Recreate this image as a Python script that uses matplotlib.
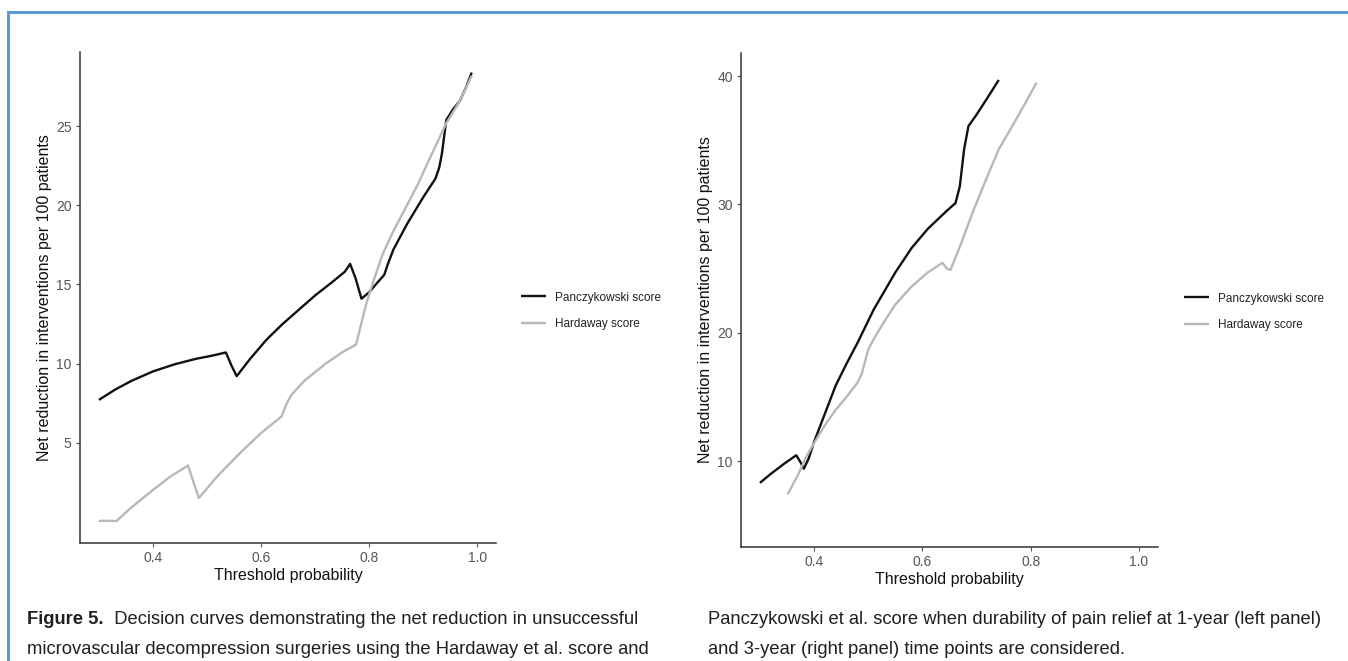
import matplotlib
matplotlib.use("Agg")
import matplotlib.pyplot as plt
from matplotlib.lines import Line2D

# ---------------- data ----------------
series_names = ["Panczykowski score", "Hardaway score"]

left_panc_x = [0.30, 0.33, 0.36, 0.40, 0.44, 0.48, 0.51, 0.535, 0.545, 0.555, 0.58, 0.61, 0.64,
               0.67, 0.70, 0.73, 0.755, 0.765, 0.775, 0.786, 0.80, 0.815, 0.828, 0.835, 0.845,
               0.87, 0.90, 0.923, 0.93, 0.935, 0.943, 0.956, 0.968, 0.98, 0.99]
left_panc_y = [7.7, 8.35, 8.9, 9.5, 9.95, 10.3, 10.5, 10.7, 9.9, 9.2, 10.3, 11.5, 12.5,
               13.4, 14.3, 15.1, 15.8, 16.3, 15.4, 14.1, 14.5, 15.1, 15.6, 16.3, 17.2,
               18.8, 20.5, 21.7, 22.4, 23.3, 25.4, 26.1, 26.6, 27.5, 28.4]

left_hard_x = [0.30, 0.333, 0.36, 0.40, 0.43, 0.465, 0.475, 0.485, 0.52, 0.56, 0.60, 0.638,
               0.648, 0.656, 0.68, 0.72, 0.75, 0.776, 0.784, 0.795, 0.807, 0.825, 0.844,
               0.87, 0.89, 0.91, 0.943, 0.968, 0.99]
left_hard_y = [0.05, 0.05, 0.9, 2.0, 2.8, 3.55, 2.5, 1.5, 2.9, 4.3, 5.6, 6.65,
               7.5, 8.0, 8.9, 10.0, 10.7, 11.2, 12.3, 13.8, 15.1, 16.9, 18.3,
               20.0, 21.3, 22.8, 25.2, 26.6, 28.2]

right_panc_x = [0.30, 0.32, 0.345, 0.367, 0.375, 0.381, 0.39, 0.40, 0.42, 0.44, 0.46, 0.48,
                0.51, 0.55, 0.58, 0.61, 0.63, 0.645, 0.661, 0.669, 0.677, 0.685, 0.70,
                0.72, 0.741]
right_panc_y = [8.3, 9.0, 9.8, 10.45, 9.9, 9.4, 10.2, 11.5, 13.7, 15.9, 17.6, 19.2,
                21.8, 24.7, 26.6, 28.1, 28.9, 29.5, 30.1, 31.4, 34.3, 36.1, 37.0,
                38.3, 39.7]

right_hard_x = [0.351, 0.37, 0.385, 0.40, 0.42, 0.44, 0.46, 0.48, 0.488, 0.50, 0.51, 0.53,
                0.55, 0.58, 0.61, 0.637, 0.645, 0.652, 0.67, 0.693, 0.72, 0.741, 0.77, 0.811]
right_hard_y = [7.4, 8.9, 10.3, 11.4, 12.8, 14.0, 15.0, 16.1, 16.8, 18.7, 19.5, 20.9,
                22.2, 23.6, 24.7, 25.45, 25.0, 24.9, 26.8, 29.4, 32.2, 34.3, 36.4, 39.5]

x_ticks = [0.4, 0.6, 0.8, 1.0]
x_ticklabels = ["0.4", "0.6", "0.8", "1.0"]
left_y_ticks = [5, 10, 15, 20, 25]
right_y_ticks = [10, 20, 30, 40]

x_label = "Threshold probability"
y_label = "Net reduction in interventions per 100 patients"

caption_bold = "Figure 5."
caption_left = ["  Decision curves demonstrating the net reduction in unsuccessful",
                "microvascular decompression surgeries using the Hardaway et al. score and"]
caption_right = ["Panczykowski et al. score when durability of pain relief at 1-year (left panel)",
                 "and 3-year (right panel) time points are considered."]

# ---------------- style ----------------
W, H = 1348, 661
fig = plt.figure(figsize=(W / 100, H / 100), dpi=100)
fig.patch.set_facecolor("white")

narrow = ["Liberation Sans Narrow", "Liberation Sans", "DejaVu Sans"]
arial = ["Liberation Sans", "DejaVu Sans"]

BLACK = "#111111"
GRAY = "#b8b8b8"


def fx(px):
    return px / W


def fy(py):
    return 1 - py / H


def make_panel(rect, panc, hard, ylim, yticks, legend_xy):
    ax = fig.add_axes(rect)
    ax.plot(panc[0], panc[1], color=BLACK, lw=1.7, label=series_names[0], solid_capstyle="butt")
    ax.plot(hard[0], hard[1], color=GRAY, lw=1.7, label=series_names[1], solid_capstyle="butt")
    ax.set_xlim(0.265, 1.035)
    ax.set_ylim(*ylim)
    ax.set_xticks(x_ticks)
    ax.set_xticklabels(x_ticklabels)
    ax.set_yticks(yticks)
    for s in ["top", "right"]:
        ax.spines[s].set_visible(False)
    for s in ["left", "bottom"]:
        ax.spines[s].set_color("#333333")
        ax.spines[s].set_linewidth(1.1)
    ax.tick_params(axis="both", colors="#555555", length=3, width=0.8, labelsize=10,
                   labelcolor="#555555", pad=3)
    for lab in ax.get_xticklabels() + ax.get_yticklabels():
        lab.set_fontfamily(narrow)
    ax.set_xlabel(x_label, fontsize=11.5, family=narrow, color="#111111", labelpad=2)
    ax.set_ylabel(y_label, fontsize=11.5, family=arial, color="#111111", labelpad=3)
    leg = fig.legend(handles=ax.get_lines(), labels=series_names, loc="center left",
                     bbox_to_anchor=legend_xy, frameon=False,
                     handlelength=2.1, handletextpad=0.75, labelspacing=1.25,
                     borderpad=0, borderaxespad=0, prop={"family": arial, "size": 8.5})
    for t in leg.get_texts():
        t.set_color("#222222")
    return ax


axL = make_panel([fx(80), fy(543), fx(496) - fx(80), fy(52) - fy(543)],
                 (left_panc_x, left_panc_y), (left_hard_x, left_hard_y),
                 (-1.35, 29.7), left_y_ticks, (fx(521), fy(311)))
axR = make_panel([fx(741), fy(547), fx(1158) - fx(741), fy(53) - fy(547)],
                 (right_panc_x, right_panc_y), (right_hard_x, right_hard_y),
                 (3.3, 41.8), right_y_ticks, (fx(1184), fy(312)))

# ---------------- caption ----------------
cap_size = 13.2
fig.canvas.draw()
renderer = fig.canvas.get_renderer()
tb = fig.text(fx(27), fy(620), caption_bold, fontsize=cap_size, fontweight="bold",
              family=narrow, color="#231f20", va="center", ha="left")
bb = tb.get_window_extent(renderer=renderer)
fig.text(bb.x1 / W, fy(620), caption_left[0], fontsize=cap_size, family=narrow,
         color="#231f20", va="center", ha="left")
fig.text(fx(27), fy(649), caption_left[1], fontsize=cap_size, family=narrow,
         color="#231f20", va="center", ha="left")
fig.text(fx(708), fy(620), caption_right[0], fontsize=cap_size, family=narrow,
         color="#231f20", va="center", ha="left")
fig.text(fx(708), fy(649), caption_right[1], fontsize=cap_size, family=narrow,
         color="#231f20", va="center", ha="left")

# ---------------- blue frame ----------------
blue = "#5b9bd5"
fig.add_artist(Line2D([fx(8), 1.0], [fy(12), fy(12)], color=blue, lw=2.2,
                      transform=fig.transFigure))
fig.add_artist(Line2D([fx(8), fx(8)], [0.0, fy(12)], color=blue, lw=2.2,
                      transform=fig.transFigure))

fig.savefig("out.png", dpi=100, facecolor="white")
